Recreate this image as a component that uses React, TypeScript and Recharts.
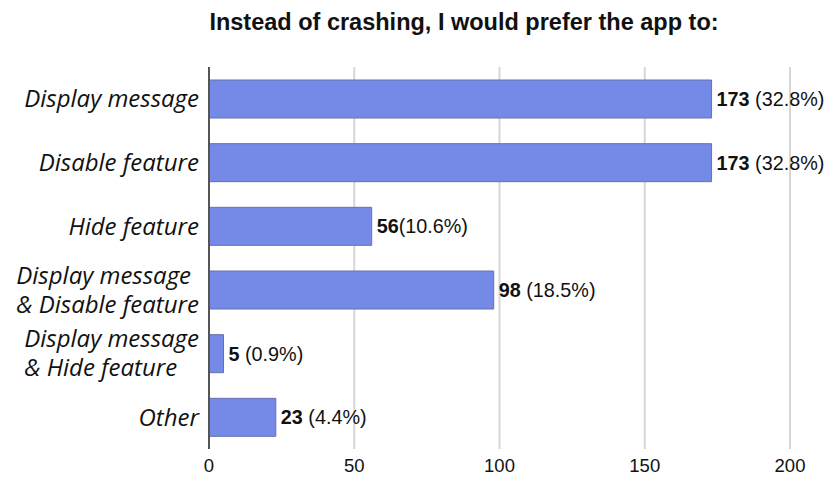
import React from "react";
import { BarChart, Bar, XAxis, YAxis, CartesianGrid, LabelList } from "recharts";

const categories: string[] = [
  "Display message",
  "Disable feature",
  "Hide feature",
  "Display message\n& Disable feature",
  "Display message\n& Hide feature",
  "Other",
];
const counts: number[] = [173, 173, 56, 98, 5, 23];
const pctLabels: string[] = [" (32.8%)", " (32.8%)", "(10.6%)", " (18.5%)", " (0.9%)", " (4.4%)"];
const xTicks: number[] = [0, 50, 100, 150, 200];
const title = "Instead of crashing, I would prefer the app to:";

const data = categories.map((c, i) => ({ name: c, value: counts[i], pct: pctLabels[i] }));

const CAT_SIZE = 24;
const CAT_FONT = `italic ${CAT_SIZE}px 'Open Sans'`;
let ctx: CanvasRenderingContext2D | null = null;
function measure(t: string): number {
  if (!ctx) {
    const c = document.createElement("canvas");
    ctx = c.getContext("2d");
  }
  if (!ctx) return t.length * 11;
  ctx.font = CAT_FONT;
  return ctx.measureText(t).width;
}

const CatTick = (props: any) => {
  const { x, y, payload } = props;
  const lines: string[] = String(payload.value).split("\n");
  const lh = 29;
  const widths = lines.map(measure);
  const maxW = Math.max(...widths);
  const left = x - maxW;
  const start = y - ((lines.length - 1) * lh) / 2;
  return (
    <g>
      {lines.map((l, i) => (
        <text
          key={i}
          x={lines.length > 1 ? left : x}
          y={start + i * lh}
          dy="0.35em"
          textAnchor={lines.length > 1 ? "start" : "end"}
          fontFamily="'Open Sans'"
          fontStyle="italic"
          fontSize={CAT_SIZE}
          fill="#111"
        >
          {l}
        </text>
      ))}
    </g>
  );
};

const ValueLabel = (props: any) => {
  const { x, y, width, height, index } = props;
  return (
    <text
      x={x + width + 5}
      y={y + height / 2}
      dy="0.36em"
      fontFamily="'Liberation Sans', Arial, sans-serif"
      fontSize={19.8}
      fill="#111"
    >
      <tspan fontWeight="bold">{counts[index]}</tspan>
      <tspan>{pctLabels[index]}</tspan>
    </text>
  );
};

export default function App() {
  return (
    <div style={{ position: "absolute", left: 0, top: 0, width: 830, height: 479, background: "#fff" }}>
      <div
        style={{
          position: "absolute",
          left: 464,
          top: 8,
          transform: "translateX(-50%)",
          whiteSpace: "nowrap",
          fontFamily: "'Liberation Sans', Arial, sans-serif",
          fontWeight: "bold",
          fontSize: 23.5,
          lineHeight: "28px",
          color: "#111",
        }}
      >
        {title}
      </div>
      <BarChart
        width={830}
        height={479}
        data={data}
        layout="vertical"
        margin={{ top: 67, right: 40, bottom: 0, left: 0 }}
      >
        <CartesianGrid horizontal={false} vertical={true} stroke="#d6d6d6" strokeWidth={2} />
        <XAxis
          type="number"
          domain={[0, 200]}
          ticks={xTicks}
          axisLine={false}
          tickLine={false}
          tickSize={0}
          tickMargin={10}
          height={30}
          tick={{ fontFamily: "'Liberation Sans', Arial, sans-serif", fontSize: 18.5, fill: "#111" }}
        />
        <YAxis
          type="category"
          dataKey="name"
          width={209}
          axisLine={{ stroke: "#555", strokeWidth: 2 }}
          tickLine={false}
          tickSize={0}
          tickMargin={10}
          interval={0}
          tick={<CatTick />}
        />
        <Bar dataKey="value" barSize={38} fill="#7589e6" stroke="#6670b0" strokeWidth={1} isAnimationActive={false}>
          <LabelList dataKey="value" content={<ValueLabel />} />
        </Bar>
      </BarChart>
    </div>
  );
}
